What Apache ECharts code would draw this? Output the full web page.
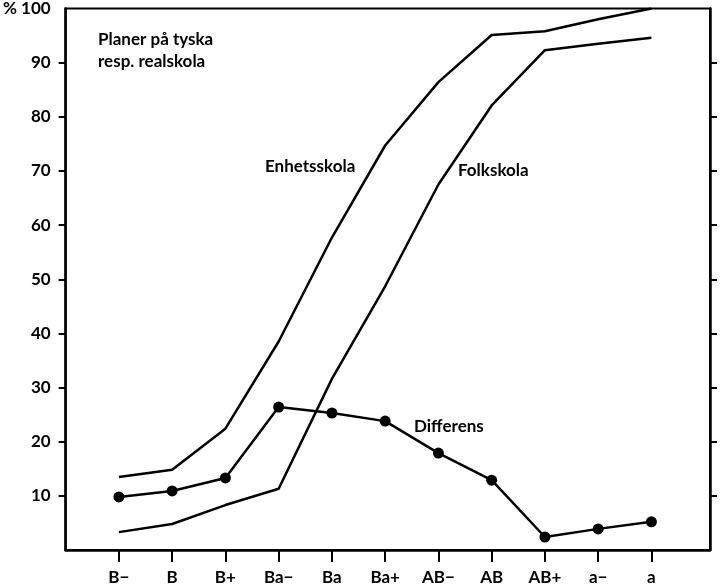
<!DOCTYPE html>
<html><head><meta charset="utf-8">
<script src="https://cdn.jsdelivr.net/npm/echarts@6/dist/echarts.min.js"></script>
<style>html,body{margin:0;padding:0;background:#fff}#c{width:720px;height:587px}</style>
</head><body><div id="c"></div>
<script>
const categories = ['B\u2212','B','B+','Ba\u2212','Ba','Ba+','AB\u2212','AB','AB+','a\u2212','a'];
const enhetsskola = [13.5, 14.8, 22.4, 38.5, 57.7, 74.7, 86.4, 95.1, 95.8, 98.0, 100];
const folkskola  = [3.3, 4.8, 8.3, 11.3, 31.6, 48.7, 67.5, 82.1, 92.3, 93.5, 94.6];
const differens  = [9.8, 10.9, 13.3, 26.4, 25.3, 23.8, 17.9, 12.9, 2.4, 3.9, 5.2];
const yTicks = [10,20,30,40,50,60,70,80,90,100];

const FONT = 'Lato';
const idx = categories.map((_, i) => i);
const pts = arr => arr.map((v, i) => [i, v]);

const chart = echarts.init(document.getElementById('c'), null, {renderer:'canvas'});
chart.setOption({
  animation:false,
  backgroundColor:'#fff',
  grid:{left:64, right:10, top:8, bottom:37, show:true, borderColor:'#000', borderWidth:2},
  xAxis:{
    type:'value', min:-1, max:11.1, interval:1,
    axisLine:{onZero:false, lineStyle:{color:'#000', width:2.5}},
    axisTick:{show:true, length:12, lineStyle:{color:'#000', width:2}, customValues: idx},
    axisLabel:{color:'#000', fontFamily:FONT, fontWeight:'bold', fontSize:17, margin:19,
      customValues: idx, formatter: v => categories[Math.round(v)] || ''},
    splitLine:{show:false}
  },
  yAxis:[{
    type:'value', min:0, max:100, interval:10, position:'left',
    axisLine:{show:true, onZero:false, lineStyle:{color:'#000', width:2.5}},
    axisTick:{show:true, length:7, lineStyle:{color:'#000', width:2}, customValues: yTicks.slice(0,9)},
    axisLabel:{color:'#000', fontFamily:FONT, fontWeight:'bold', fontSize:17, margin:15,
      customValues: yTicks, formatter: v => v === 100 ? '% 100' : String(v)},
    splitLine:{show:false}
  },{
    type:'value', min:0, max:100, interval:10, position:'right',
    axisLine:{show:true, onZero:false, lineStyle:{color:'#000', width:2.5}},
    axisTick:{show:true, length:7, lineStyle:{color:'#000', width:2}, customValues: yTicks.slice(0,9)},
    axisLabel:{show:false},
    splitLine:{show:false}
  }],
  series:[
    {type:'line', name:'Enhetsskola', data:pts(enhetsskola), symbol:'none',
     lineStyle:{color:'#000', width:2.5}},
    {type:'line', name:'Folkskola', data:pts(folkskola), symbol:'none',
     lineStyle:{color:'#000', width:2.5}},
    {type:'line', name:'Differens', data:pts(differens), symbol:'circle', symbolSize:11,
     itemStyle:{color:'#000'}, lineStyle:{color:'#000', width:2.5}}
  ],
  graphic:[
    {type:'text', x:98, y:51, style:{text:'Planer på tyska\nresp. realskola', fill:'#000',
      font:'bold 17px '+FONT, lineHeight:22, verticalAlign:'middle'}},
    {type:'text', x:265, y:167, style:{text:'Enhetsskola', fill:'#000', font:'bold 17px '+FONT, verticalAlign:'middle'}},
    {type:'text', x:458, y:171, style:{text:'Folkskola', fill:'#000', font:'bold 17px '+FONT, verticalAlign:'middle'}},
    {type:'text', x:414, y:427, style:{text:'Differens', fill:'#000', font:'bold 17px '+FONT, verticalAlign:'middle'}}
  ]
});
</script></body></html>
